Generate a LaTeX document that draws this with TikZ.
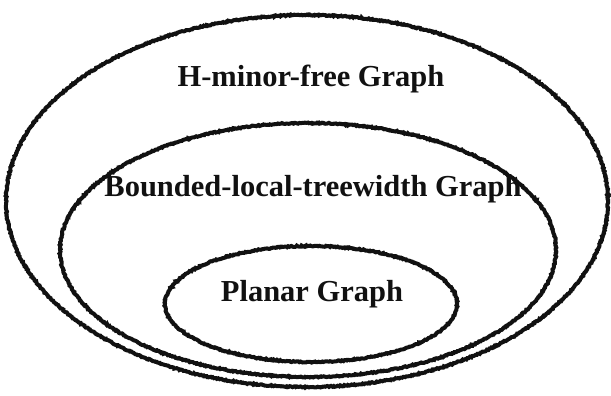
\documentclass[tikz,border=0pt]{standalone}
\usepackage{fontspec}
\setmainfont{Liberation Serif}
\usepackage{tikz}
\usetikzlibrary{decorations.pathmorphing}
\definecolor{gcink}{HTML}{111111}
\tikzset{
  gcring/.style={draw=gcink, line width=4pt,
                 decorate, decoration={random steps, segment length=1.2pt, amplitude=0.6pt}},
  gclabel/.style={font=\fontsize{30.5}{34}\selectfont\bfseries, text=gcink, inner sep=0pt},
}
\begin{document}
\begin{tikzpicture}[x=1pt,y=-1pt]
  \useasboundingbox (0,0) rectangle (611,396);
  % class rings, outer to inner
  \draw[gcring] (307,201) ellipse [x radius=301, y radius=186];
  \draw[gcring] (308,250) ellipse [x radius=248, y radius=127];
  \draw[gcring] (311,304) ellipse [x radius=146, y radius=58];

  \node[gclabel] (hminor)  at (311,79)  {H-minor-free Graph};
  \node[gclabel] (boundlt) at (313,189) {Bounded-local-treewidth Graph};
  \node[gclabel] (planar)  at (312,294) {Planar Graph};
\end{tikzpicture}
\end{document}
